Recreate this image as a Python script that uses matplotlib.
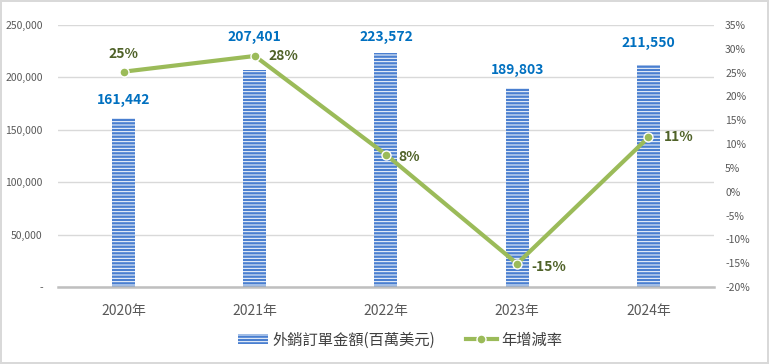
import numpy as np
import matplotlib
matplotlib.use('Agg')
import matplotlib.pyplot as plt
from matplotlib.ticker import FuncFormatter, MultipleLocator
from matplotlib.patches import Patch
from matplotlib.lines import Line2D

plt.rcParams['font.family'] = ['Noto Sans CJK TC', 'DejaVu Sans']
plt.rcParams['hatch.linewidth'] = 0.7

# Data
years = ['2020年', '2021年', '2022年', '2023年', '2024年']
orders = [161442, 207401, 223572, 189803, 211550]
growth = [25.2, 28.5, 7.8, -15.1, 11.4]
bar_name = '外銷訂單金額(百萬美元)'
line_name = '年增減率'

bar_color = '#4a7fd0'
line_color = '#9bbb59'
bar_label_color = '#0070c0'
pct_label_color = '#4f6228'

fig = plt.figure(figsize=(7.69, 3.64), dpi=100)
fig.patch.set_edgecolor('#d9d9d9')
fig.patch.set_linewidth(1.5)
ax = fig.add_axes([0.0754, 0.2115, 0.853, 0.7198])
ax2 = ax.twinx()

x = np.arange(len(years))
bars = ax.bar(x, orders, width=0.175, color=bar_color, edgecolor='white',
              linewidth=0, hatch='-----', zorder=2)

ax.set_ylim(0, 250000)
ax.set_xlim(-0.5, len(years) - 0.5)
ax.yaxis.set_major_locator(MultipleLocator(50000))
ax.yaxis.set_major_formatter(FuncFormatter(lambda v, p: '-' if v == 0 else f'{v:,.0f}'))
ax.grid(axis='y', color='#d9d9d9', linewidth=1, zorder=0)
ax.set_axisbelow(True)
ax.set_xticks(x)
ax.set_xticklabels(years, fontsize=10, color='#595959')
ax.tick_params(axis='x', length=0, pad=12)
ax.tick_params(axis='y', length=0, labelsize=7.5, labelcolor='#595959', pad=11)

for s in ['top', 'left', 'right']:
    ax.spines[s].set_visible(False)
    ax2.spines[s].set_visible(False)
ax.spines['bottom'].set_color('#bfbfbf')
ax.spines['bottom'].set_linewidth(1.8)
ax2.spines['bottom'].set_visible(False)

# bar value labels
bar_offsets = [18, 33, 16, 18, 22]
for xi, v, off in zip(x, orders, bar_offsets):
    ax.annotate(f'{v:,}', (xi, v), xytext=(0, off), textcoords='offset pixels',
                ha='center', va='center', fontsize=10, fontweight='bold',
                color=bar_label_color)

ax2.plot(x, growth, color=line_color, linewidth=3, marker='o', markersize=6.5,
         markerfacecolor=line_color, markeredgecolor='white', markeredgewidth=1,
         zorder=3)
ax2.set_ylim(-20, 35)
ax2.yaxis.set_major_locator(MultipleLocator(5))
ax2.yaxis.set_major_formatter(FuncFormatter(lambda v, p: f'{v:.0f}%'))
ax2.tick_params(axis='y', length=0, labelsize=7.5, labelcolor='#595959', pad=8)

pct_offsets = [(0, 18), (29, 0), (23, -2), (32, -3), (30, 0)]
for xi, v, (dx, dy) in zip(x, growth, pct_offsets):
    ax2.annotate(f'{v:.0f}%', (xi, v), xytext=(dx, dy), textcoords='offset pixels',
                 ha='center', va='center', fontsize=10, fontweight='bold',
                 color=pct_label_color)

handles = [Patch(facecolor=bar_color, edgecolor='white', linewidth=0, hatch='-----'),
           Line2D([0], [0], color=line_color, linewidth=3, marker='o', markersize=6.5,
                  markerfacecolor=line_color, markeredgecolor='white')]
fig.legend(handles, [bar_name, line_name], loc='center', bbox_to_anchor=(0.52, 0.066),
           ncol=2, frameon=False, fontsize=11, handlelength=2.0, handletextpad=0.3,
           columnspacing=2.0, labelcolor='#404040')

fig.savefig('out.png', dpi=100)
